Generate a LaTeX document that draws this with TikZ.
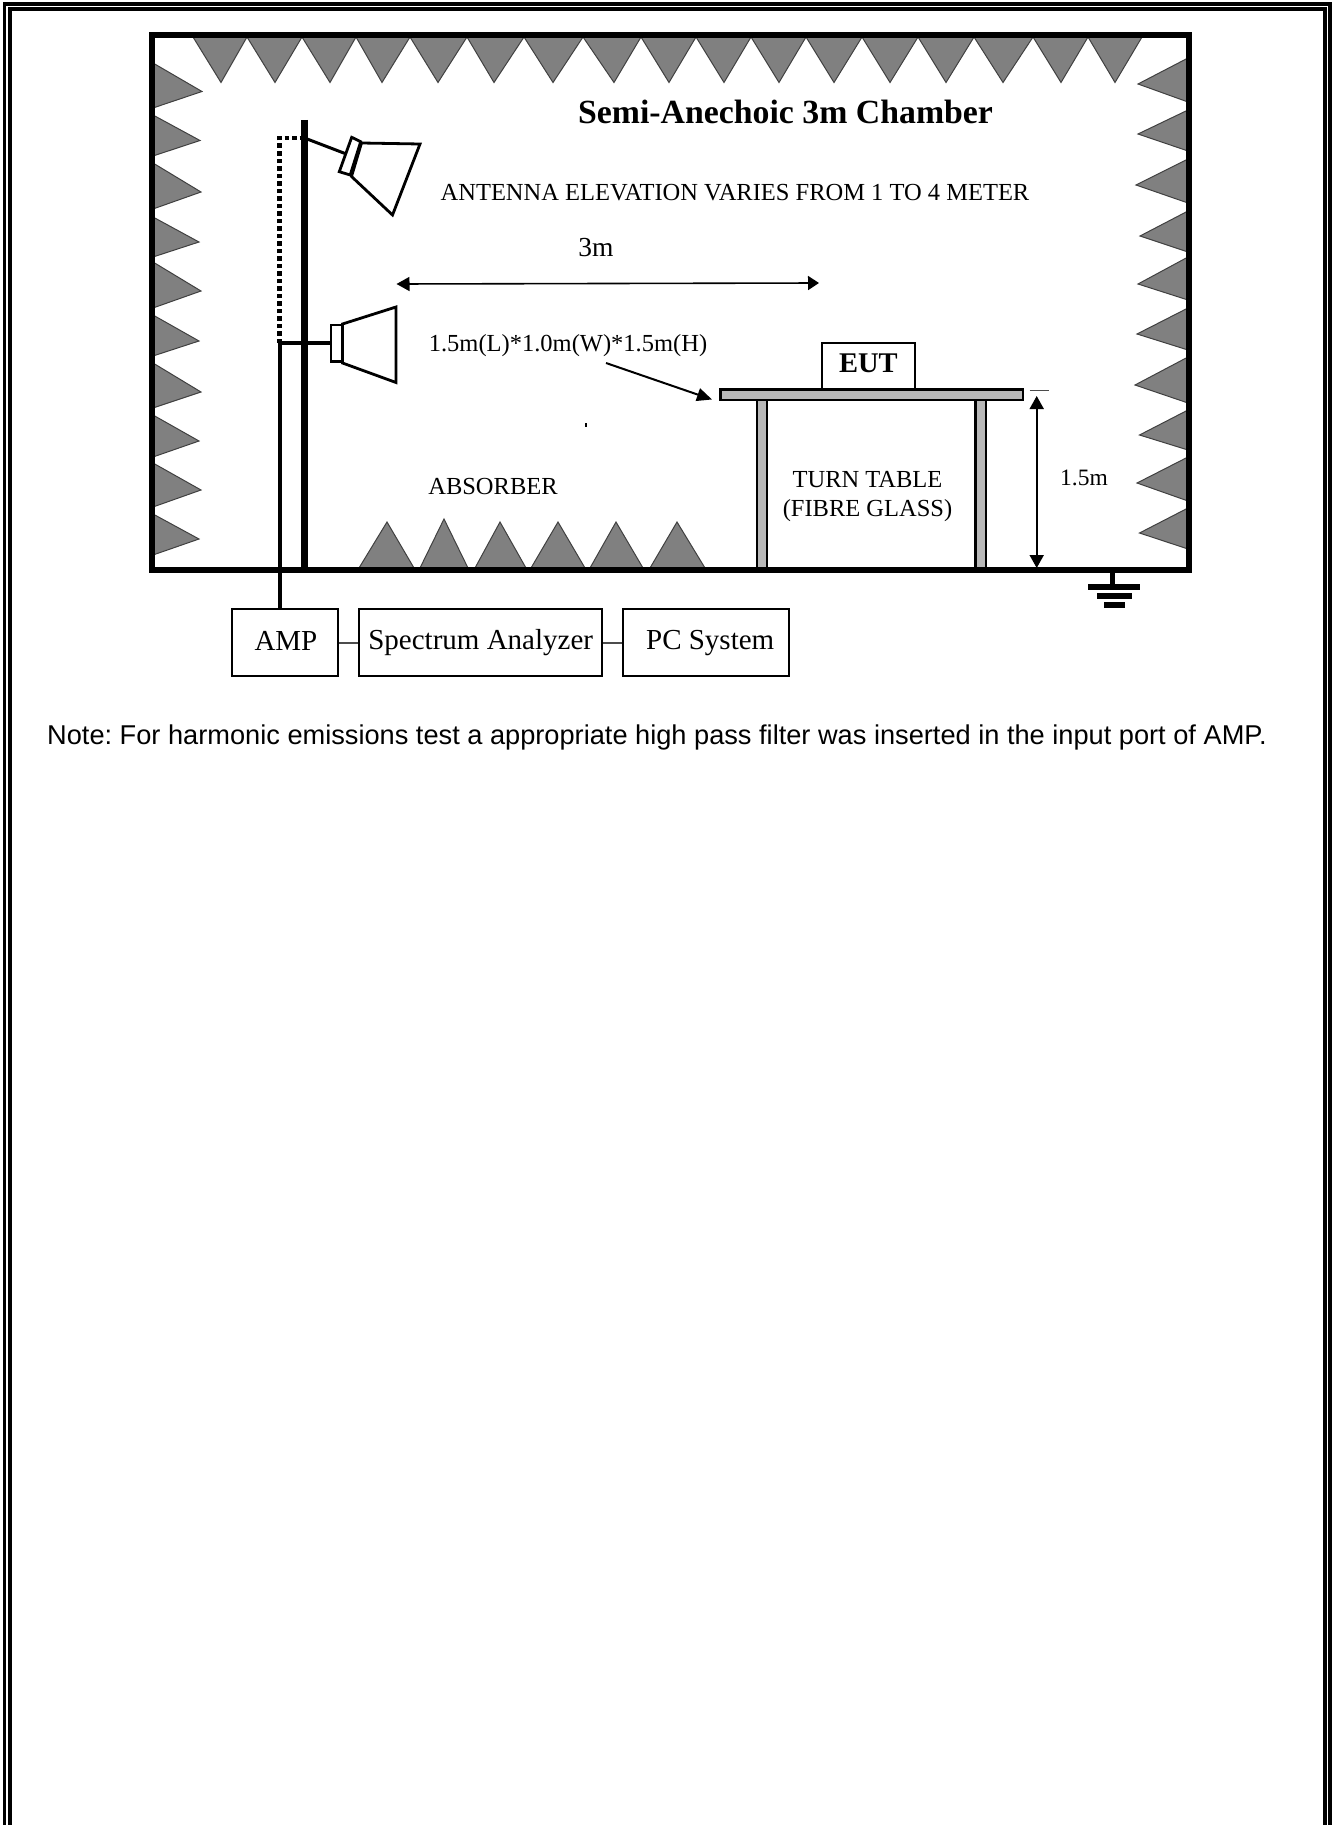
\documentclass[tikz,border=0pt]{standalone}
\usepackage{fontspec}
\setmainfont{Liberation Serif}
\newfontfamily\notefont{Liberation Sans}
\usetikzlibrary{arrows.meta}
\definecolor{absgray}{HTML}{808080}
\definecolor{tablegray}{HTML}{B8B8B8}
\frenchspacing
\tikzset{
  x=1pt,y=-1pt,
  absorber/.style={fill=absgray,draw=black!75,line width=1pt,line join=miter},
  framerule/.style={draw=black,line width=3.2pt},
  wall/.style={draw=black,line width=5.5pt,line join=miter},
  horn/.style={draw=black,line width=2.8pt,line join=miter,fill=white},
  tablepart/.style={fill=tablegray,draw=black,line width=2.4pt},
  instr/.style={draw=black,line width=2.4pt,inner sep=0pt,font=\fontsize{29}{32}\selectfont,anchor=north west},
  lbl/.style={inner sep=0pt,font=\fontsize{24.5}{27}\selectfont},
  dimarrow/.style={draw=black,line width=1.8pt,{Triangle[length=13pt,width=14pt]}-{Triangle[length=13pt,width=14pt]}},
  link/.style={draw=black!70,line width=2.2pt},
}
\begin{document}
\begin{tikzpicture}
\useasboundingbox (0,0) rectangle (1338,1825);
% page frame (open at the bottom)
\draw[framerule] (4.5,1825) -- (4.5,4) -- (1330,4) -- (1330,1825);
\draw[framerule] (10,1825) -- (10,9) -- (1325,9) -- (1325,1825);
% top absorbers
\foreach \a/\t/\b in {193/221/247,247/275/302,302/330/356,356/382/410,410/438/467,467/494/524,524/553/583,583/614/641,641/669/696,696/724/751,751/779/806,806/834/862,862/890/918,918/946/974,974/1003/1033,1033/1061/1088,1088/1115/1142}
  \draw[absorber] (\a,37) -- (\t,82.5) -- (\b,37) -- cycle;
% left absorbers
\foreach \a/\t/\p/\b in {63/91.5/202/108,115/140.5/200/156,163/192/201/209,217/242/199/257,262/291/201/308,315/341/199/356,363/392/201/408,415/441/199/457,463/490/201/507,514/539/199/555}
  \draw[absorber] (153,\a) -- (\p,\t) -- (153,\b) -- cycle;
% right absorbers
\foreach \a/\t/\p/\b in {58/84/1138/102,110/134/1138/151,159/185/1136/203,211/236/1140/252,257/284/1138/300,308/334/1137/350,357/385/1135/403,410/435/1139.5/450,457/483/1137/501,508/533/1139.5/549}
  \draw[absorber] (1188,\a) -- (\p,\t) -- (1188,\b) -- cycle;
% floor absorbers
\foreach \a/\t/\p/\b in {359/522/387/414,420/519/444/468,475/522/500/526,531/522/558/585,590/522/616/643,650/522/677/705}
  \draw[absorber] (\a,568) -- (\p,\t) -- (\b,568) -- cycle;
% chamber walls
\draw[wall] (152,35) rectangle (1189,570);
% instruments
\node[instr,minimum width=106.5pt,minimum height=67pt] (amp) at (230.5,608) {\raisebox{3pt}{\hspace{2pt}AMP}};
\node[instr,minimum width=243pt,minimum height=67pt] (sa) at (358,608) {\raisebox{3pt}{Spectrum Analyzer}};
\node[instr,minimum width=166pt,minimum height=67pt] (pc) at (622,608) {\raisebox{3pt}{\hspace{8pt}PC System}};
\draw[link] (amp.east) -- (sa.west);
\draw[link] (sa.east) -- (pc.west);
% mast and cable
\coordinate (mastTop) at (304.5,120);
\coordinate (mastFoot) at (304.5,570);
\coordinate (cableTop) at (279.5,343);
\coordinate (dotCorner) at (279.5,138);
\coordinate (dotEnd) at (304.5,138);
\draw[black,line width=6.5pt] (mastTop) -- (mastFoot);
\draw[black,line width=4pt] (cableTop) -- (cableTop |- amp.north);
\draw[black,line width=4.5pt,dash pattern=on 4.5pt off 3pt] (cableTop) -- (dotCorner) -- (dotEnd);
% lower antenna
\draw[horn] (342.5,324) -- (396,307) -- (396,382.5) -- (342.5,363) -- cycle;
\draw[horn] (331,325) rectangle (342.5,361.5);
\draw[black,line width=3.6pt] (cableTop) -- (331,343);
% upper antenna
\draw[black,line width=3pt] (dotEnd) -- (345,153.5);
\draw[horn] (361.5,143) -- (420,144) -- (392.5,215) -- (351.5,176.5) -- cycle;
\draw[horn] (351.7,137.3) -- (360.7,141.7) -- (350.2,175) -- (339.3,171.7) -- cycle;
% labels
\node[inner sep=0pt,font=\bfseries\fontsize{33.8}{36}\selectfont] (title) at (785.5,112) {Semi-Anechoic 3m Chamber};
\node[lbl] (elev) at (735,193) {ANTENNA ELEVATION VARIES FROM 1 TO 4 METER};
\node[inner sep=0pt,font=\fontsize{27.5}{30}\selectfont] (three) at (596,248) {3m};
\coordinate (threeL) at (396.5,284);
\coordinate (threeR) at (819,283);
\draw[black,line width=1.6pt,{Triangle[length=13pt,width=14pt]}-{Triangle[length=11pt,width=14pt]}] (threeL) -- (threeR);
\node[lbl] (size) at (568,346) {1.5m(L)*1.0m(W)*1.5m(H)};
\fill[black] (584.5,423) rectangle (587,427);
\node[lbl] (abs) at (493,487) {ABSORBER};
% table
\draw[tablepart] (757,400) rectangle (767,568);
\draw[tablepart] (975.5,400) rectangle (986,568);
\draw[tablepart] (720.5,389.5) rectangle (1023,400) ;
\node[draw=black,line width=2.4pt,inner sep=0pt,minimum width=93pt,minimum height=47pt,anchor=north west,font=\bfseries\fontsize{28.5}{31}\selectfont] (eut) at (820.6,342) {\raisebox{7pt}{EUT}};
\coordinate (tableTip) at (712,399.5);
\coordinate (sizeTail) at (606,363);
\draw[black,line width=2pt,-{Triangle[length=15pt,width=13pt]}] (sizeTail) -- (tableTip);
\node[lbl,align=center,font=\fontsize{24.5}{29}\selectfont] (tt) at (867.5,497) {TURN TABLE\\(FIBRE GLASS)};
% height dimension
\coordinate (dimTop) at (1036.7,396);
\coordinate (dimBot) at (1036.7,568);
\draw[dimarrow] (dimTop) -- (dimBot);
\coordinate (tickL) at (1029.5,390.7);
\coordinate (tickR) at (1049,390.7);
\draw[black!70,line width=1.4pt] (tickL) -- (tickR);
\node[lbl,font=\fontsize{23.5}{26}\selectfont] (h) at (1084,478) {1.5m};
% ground
\coordinate (gnd) at (1112,570);
\draw[black,line width=5pt] (gnd) -- ++(0,16);
\fill[black] (1088,584) rectangle (1140,590);
\fill[black] (1097,593) rectangle (1132,599);
\fill[black] (1104,602) rectangle (1125,608);
% note
\node[anchor=west,inner sep=0pt,font=\notefont\fontsize{27.2}{30}\selectfont] (note) at (47,737) {Note: For harmonic emissions test a appropriate high pass filter was inserted in the input port of AMP.};
\end{tikzpicture}
\end{document}
